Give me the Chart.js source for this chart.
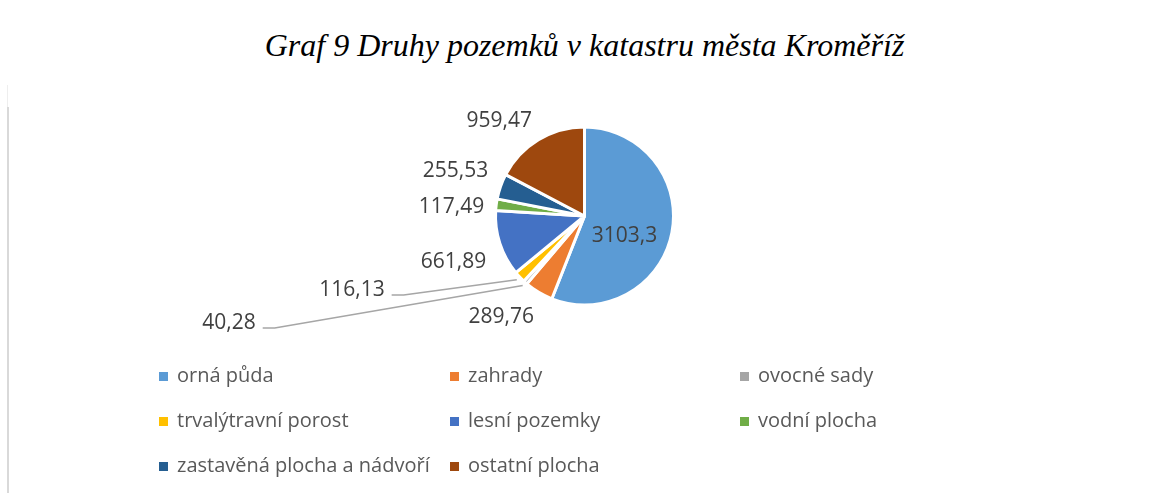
<!DOCTYPE html>
<html>
<head>
<meta charset="utf-8">
<script src="https://cdn.jsdelivr.net/npm/chart.js@4.4.1/dist/chart.umd.min.js"></script>
<style>
  html, body { margin: 0; padding: 0; background: #fff; }
  body { width: 1149px; height: 493px; position: relative; overflow: hidden; }
  #title { position: absolute; left: 0; width: 1169px; top: 29px; text-align: center;
    font-family: "Liberation Serif", "DejaVu Serif", serif; font-style: italic; font-size: 32px; line-height: 32px; color: #000; }
  #c { position: absolute; left: 0; top: 0; }
  .frame { position: absolute; left: 7px; top: 107px; width: 2px; height: 386px; background: #d9d9d9; }
  .frame2 { position: absolute; left: 7px; top: 85px; width: 1px; height: 22px; background: #eeeeee; }
  .leg { position: absolute; font-family: "Open Sans", sans-serif; font-size: 20px; line-height: 20px; color: #595959; white-space: nowrap; }
  .leg i { position: absolute; width: 9px; height: 9px; }
</style>
</head>
<body>
<div class="frame2"></div>
<div class="frame"></div>
<div id="title">Graf 9 Druhy pozemků v katastru města Kroměříž</div>
<canvas id="c" width="1149" height="493"></canvas>
<div id="legend"></div>
<script>
// ---- data ----
const categories = ["orná půda", "zahrady", "ovocné sady", "trvalýtravní porost", "lesní pozemky", "vodní plocha", "zastavěná plocha a nádvoří", "ostatní plocha"];
const areas = [3103.3, 289.76, 40.28, 116.13, 661.89, 117.49, 255.53, 959.47];
const valueLabels = ["3103,3", "289,76", "40,28", "116,13", "661,89", "117,49", "255,53", "959,47"];

// ---- styles ----
const sliceColors = ["#5B9BD5", "#ED7D31", "#A5A5A5", "#FFC000", "#4472C4", "#70AD47", "#255E91", "#9E480E"];
// label offsets (px) from the slice's outer mid-point
const labelOffsets = [[-47.5, 3.2], [-37.6, 24.9], [-296.4, 40.6], [-167.8, 13], [-46.3, 18], [-44.7, 2], [-45, -15.9], [-39.2, -19.2]];
const leaderLines = [false, false, true, true, false, false, false, false];

const labelPlugin = {
  id: 'valueLabels',
  afterDatasetsDraw(chart) {
    const ctx = chart.ctx;
    const meta = chart.getDatasetMeta(0);
    ctx.save();
    ctx.font = '21px "Open Sans", sans-serif';
    ctx.fillStyle = '#404040';
    ctx.textAlign = 'center';
    ctx.textBaseline = 'middle';
    meta.data.forEach((arc, i) => {
      const p = arc.getProps(['x', 'y', 'startAngle', 'endAngle', 'outerRadius'], true);
      const mid = (p.startAngle + p.endAngle) / 2;
      const ex = p.x + Math.cos(mid) * p.outerRadius;
      const ey = p.y + Math.sin(mid) * p.outerRadius;
      const lx = ex + labelOffsets[i][0];
      const ly = ey + labelOffsets[i][1];
      const txt = valueLabels[i];
      ctx.fillText(txt, lx, ly);
      if (leaderLines[i]) {
        const w = ctx.measureText(txt).width;
        const sx = p.x + Math.cos(mid) * (p.outerRadius + 4);
        const sy = p.y + Math.sin(mid) * (p.outerRadius + 4);
        const hx0 = lx + w / 2 + 7, hx1 = lx + w / 2 + 19, hy = ly + 5;
        ctx.beginPath();
        ctx.strokeStyle = '#A6A6A6';
        ctx.lineWidth = 1.5;
        ctx.moveTo(hx0, hy);
        ctx.lineTo(hx1, hy);
        ctx.lineTo(sx, sy);
        ctx.stroke();
      }
    });
    ctx.restore();
  }
};

new Chart(document.getElementById('c'), {
  type: 'pie',
  data: {
    labels: categories,
    datasets: [{
      data: areas,
      backgroundColor: sliceColors,
      borderColor: '#ffffff',
      borderWidth: 3,
      radius: 89
    }]
  },
  options: {
    responsive: false,
    animation: false,
    devicePixelRatio: 1,
    layout: { padding: { left: 497, right: 1149 - 672, top: 130, bottom: 493 - 302 } },
    plugins: { legend: { display: false }, tooltip: { enabled: false }, title: { display: false } }
  },
  plugins: [labelPlugin]
});

// ---- legend (HTML) ----
const legCols = [159, 450, 740];
const legRowsTop = [365, 410, 455];
const legend = document.getElementById('legend');
categories.forEach((name, i) => {
  const col = i % 3, row = Math.floor(i / 3);
  const d = document.createElement('div');
  d.className = 'leg';
  d.style.left = legCols[col] + 'px';
  d.style.top = legRowsTop[row] + 'px';
  d.style.paddingLeft = '18px';
  const m = document.createElement('i');
  m.style.background = sliceColors[i];
  m.style.left = '0px';
  m.style.top = '7px';
  d.appendChild(m);
  d.appendChild(document.createTextNode(name));
  legend.appendChild(d);
});
</script>
</body>
</html>
